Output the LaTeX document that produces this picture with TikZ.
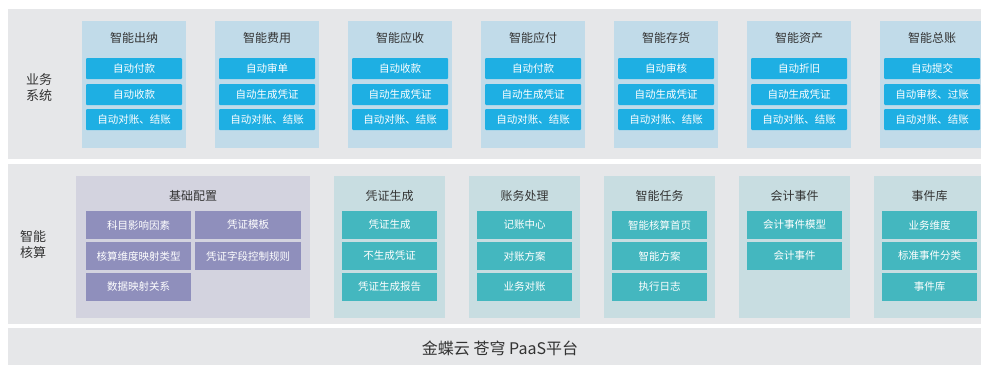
\documentclass[tikz,border=0pt]{standalone}
\usepackage{fontspec}
\setmainfont{Noto Sans CJK SC}
\definecolor{bandc}{HTML}{E6E7E9}
\definecolor{topcol}{HTML}{C1DBE9}
\definecolor{topbtn}{HTML}{1EAFE3}
\definecolor{midcol}{HTML}{C8DDE1}
\definecolor{midbtn}{HTML}{44B7BF}
\definecolor{basecol}{HTML}{D3D3DF}
\definecolor{basebtn}{HTML}{8F8FBC}
\definecolor{txt}{HTML}{333333}
\tikzset{
  box/.style={rectangle, inner sep=0pt, outer sep=0pt, anchor=north west},
  band/.style={box, fill=bandc},
  topcolbox/.style={box, fill=topcol, minimum width=104pt, minimum height=127pt},
  topbtnbox/.style={box, fill=topbtn, minimum width=96pt, minimum height=21pt, rounded corners=1pt, text=white, font=\fontsize{10.5}{12}\selectfont},
  midcolbox/.style={box, fill=midcol, minimum width=111pt, minimum height=142pt},
  midbtnbox/.style={box, fill=midbtn, minimum width=95pt, minimum height=28pt, text=white, font=\fontsize{10.5}{12}\selectfont},
  basebtnbox/.style={box, fill=basebtn, minimum width=105pt, minimum height=28pt, text=white, font=\fontsize{10.5}{12}\selectfont},
  title/.style={text=txt, font=\fontsize{12}{14}\selectfont, inner sep=0pt},
  sidelabel/.style={text=txt, font=\fontsize{13}{16}\selectfont, align=left, inner sep=0pt},
}
\begin{document}
\begin{tikzpicture}[x=1pt, y=-1pt]
\useasboundingbox (0,0) rectangle (981,365);
\fill[white] (0,0) rectangle (981,365);
% bands
\node[band, minimum width=973pt, minimum height=150pt] (bandtop) at (8,9) {};
\node[band, minimum width=973pt, minimum height=160pt] (bandmid) at (8,164) {};
\node[band, minimum width=973pt, minimum height=37pt] (bandbot) at (8,328) {};
\node[sidelabel] (lbltop) at (39,88) {业务\\系统};
\node[sidelabel] (lblmid) at (33,245) {智能\\核算};
\node[text=txt, font=\fontsize{16}{18}\selectfont, inner sep=0pt] (paas) at (500,348) {金蝶云 苍穹 PaaS平台};
% top columns
\foreach \i/\t/\a/\b/\c in {0/智能出纳/自动付款/自动收款/自动对账、结账,
  1/智能费用/自动审单/自动生成凭证/自动对账、结账,
  2/智能应收/自动收款/自动生成凭证/自动对账、结账,
  3/智能应付/自动付款/自动生成凭证/自动对账、结账,
  4/智能存货/自动审核/自动生成凭证/自动对账、结账,
  5/智能资产/自动折旧/自动生成凭证/自动对账、结账,
  6/智能总账/自动提交/自动审核、过账/自动对账、结账}{
  \pgfmathsetmacro{\xx}{82+133*\i}
  \node[topcolbox] (tc\i) at (\xx,21) {};
  \node[title] (tt\i) at (\xx+52,38) {\t};
  \node[topbtnbox] (ta\i) at (\xx+4,58) {\a};
  \node[topbtnbox] (tb\i) at (\xx+4,84) {\b};
  \node[topbtnbox] (tcc\i) at (\xx+4,109) {\c};
}
% base config
\node[box, fill=basecol, minimum width=234pt, minimum height=142pt] (base) at (76,176) {};
\node[title] (basetitle) at (193,196) {基础配置};
\node[basebtnbox] (b1) at (86,211) {科目影响因素};
\node[basebtnbox, minimum width=106pt] (b2) at (195,211) {凭证模板};
\node[basebtnbox] (b3) at (86,242) {核算维度映射类型};
\node[basebtnbox, minimum width=106pt] (b4) at (195,242) {凭证字段控制规则};
\node[basebtnbox] (b5) at (86,273) {数据映射关系};
% middle columns
\foreach \j/\t/\a/\b/\c in {0/凭证生成/凭证生成/不生成凭证/凭证生成报告,
  1/账务处理/记账中心/对账方案/业务对账,
  2/智能任务/智能核算首页/智能方案/执行日志,
  4/事件库/业务维度/标准事件分类/事件库}{
  \pgfmathsetmacro{\xx}{334+135*\j}
  \node[midcolbox] (mc\j) at (\xx,176) {};
  \node[title] (mt\j) at (\xx+55.5,196) {\t};
  \node[midbtnbox] (ma\j) at (\xx+8,211) {\a};
  \node[midbtnbox] (mb\j) at (\xx+8,242) {\b};
  \node[midbtnbox] (mcc\j) at (\xx+8,273) {\c};
}
\node[midcolbox] (mc3) at (739,176) {};
\node[title] (mt3) at (794.5,196) {会计事件};
\node[midbtnbox] (ma3) at (747,211) {会计事件模型};
\node[midbtnbox] (mb3) at (747,242) {会计事件};
\end{tikzpicture}
\end{document}
